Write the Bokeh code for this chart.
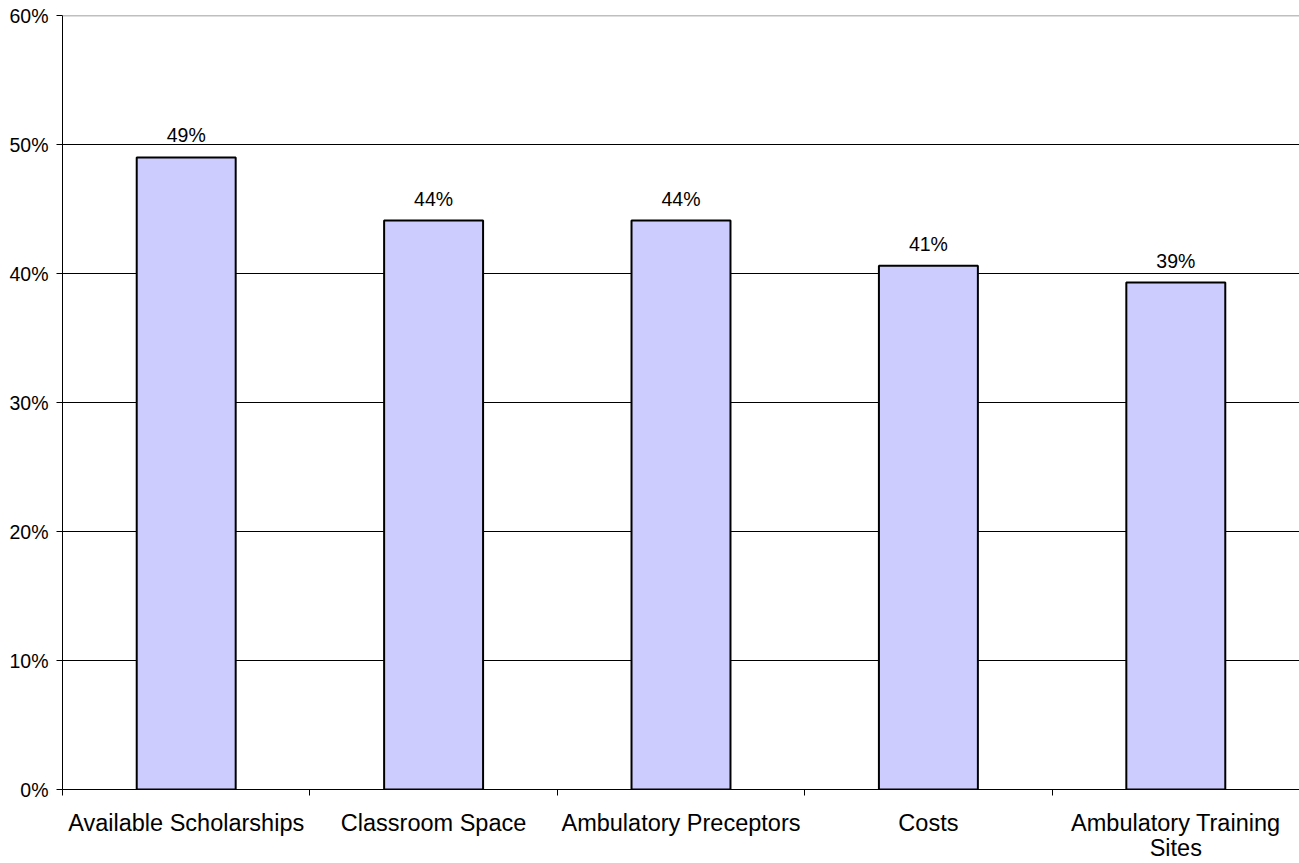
from bokeh.plotting import figure
from bokeh.models import Range1d, FixedTicker, PrintfTickFormatter, Span, ColumnDataSource
from bokeh.embed import file_html
from bokeh.resources import INLINE
from bokeh.core.properties import value

categories = ["Available Scholarships", "Classroom Space", "Ambulatory Preceptors",
              "Costs", "Ambulatory Training\nSites"]
percent = [49.0, 44.1, 44.1, 40.6, 39.3]
y_ticks = [0, 10, 20, 30, 40, 50, 60]

FONT = "Liberation Sans"

xs = [i + 0.5 for i in range(len(categories))]
src = ColumnDataSource(dict(x=xs, top=percent,
                            label=[f"{v:.0f}%" for v in percent]))

p = figure(width=1299, height=863, output_backend="svg", toolbar_location=None,
           x_range=Range1d(0, len(categories)), y_range=Range1d(0, 60),
           min_border_left=62, min_border_right=0, min_border_top=15,
           min_border_bottom=73)
p.outline_line_color = None
p.background_fill_color = "white"
p.border_fill_color = "white"

p.vbar(x="x", top="top", bottom=0, width=0.4, source=src,
       fill_color="#CCCCFF", line_color="black", line_width=2)

p.text(x="x", y="top", text="label", source=src, text_align="center",
       text_baseline="alphabetic", y_offset=-22, text_font=value(FONT),
       text_font_size="19.5px", text_color="black")

# y axis
p.yaxis.ticker = FixedTicker(ticks=y_ticks)
p.yaxis.formatter = PrintfTickFormatter(format="%d%%")
p.yaxis.major_label_text_font = FONT
p.yaxis.major_label_text_font_size = "19.5px"
p.yaxis.major_label_text_color = "black"
p.yaxis.major_tick_out = 6
p.yaxis.major_tick_in = 0
p.yaxis.minor_tick_line_color = None
p.yaxis.axis_line_color = "black"
p.yaxis.axis_line_width = 1
p.yaxis.major_label_standoff = 8

# x axis: labels at category centres, ticks at boundaries
p.xaxis.ticker = FixedTicker(ticks=xs, minor_ticks=list(range(len(categories) + 1)))
p.xaxis.major_label_overrides = {x: c for x, c in zip(xs, categories)}
p.xaxis.major_tick_line_color = None
p.xaxis.major_tick_in = 0
p.xaxis.major_tick_out = 0
p.xaxis.minor_tick_in = 0
p.xaxis.minor_tick_out = 6
p.xaxis.minor_tick_line_color = "black"
p.xaxis.axis_line_color = "black"
p.xaxis.major_label_text_font = FONT
p.xaxis.major_label_text_font_size = "23.5px"
p.xaxis.major_label_text_color = "black"
p.xaxis.major_label_text_line_height = 0.98
p.xaxis.major_label_standoff = 14

p.xgrid.grid_line_color = None
p.ygrid.ticker = FixedTicker(ticks=y_ticks[1:-1])
p.ygrid.grid_line_color = "black"
p.ygrid.grid_line_width = 1

p.add_layout(Span(location=60, dimension="width", line_color="#808080", line_width=1.5))

open("out.html", "w").write(file_html(p, INLINE))
